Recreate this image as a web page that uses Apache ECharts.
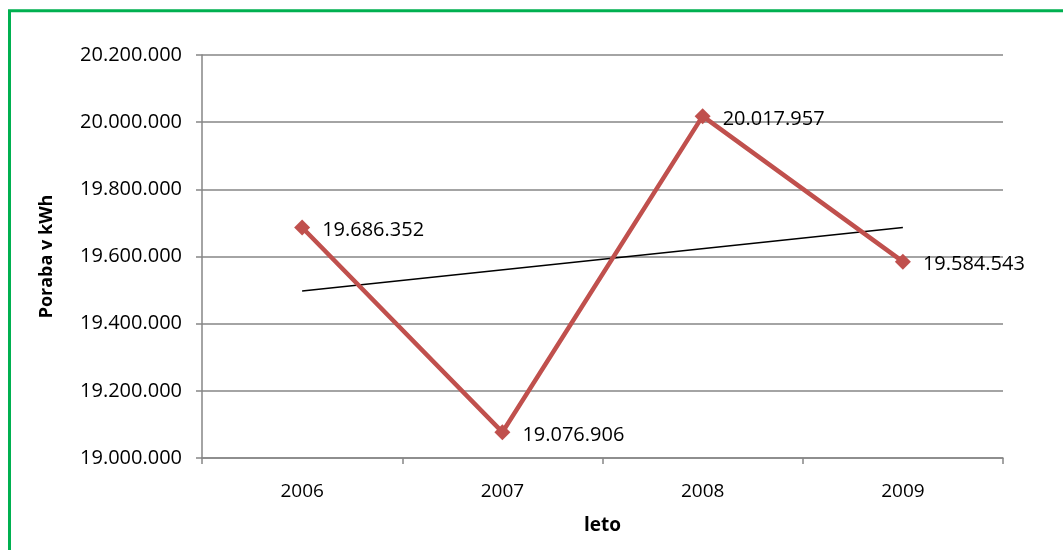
<!DOCTYPE html>
<html>
<head>
<meta charset="utf-8">
<script src="https://cdn.jsdelivr.net/npm/echarts@6/dist/echarts.min.js"></script>
<style>
html,body{margin:0;padding:0;background:#fff;}
#c{width:1063px;height:550px;}
</style>
</head>
<body>
<div id="c"></div>
<script>
const categories = ['2006', '2007', '2008', '2009'];
const poraba = [19686352, 19076906, 20017957, 19584543];
const trend = [19497000, null, null, 19686000];
const yMin = 19000000, yMax = 20200000, yStep = 200000;
const yAxisName = 'Poraba v kWh';
const xAxisName = 'leto';

function fmt(v) {
  return String(Math.round(v)).replace(/\B(?=(\d{3})+(?!\d))/g, '.');
}

const FONT = 'Open Sans';
const chart = echarts.init(document.getElementById('c'));
chart.setOption({
  backgroundColor: '#fff',
  animation: false,
  graphic: [{
    type: 'rect',
    shape: { x: 9.5, y: 10.8, width: 1200, height: 700 },
    style: { fill: 'none', stroke: '#00b050', lineWidth: 3 },
    silent: true
  }],
  grid: { left: 202, right: 60, top: 55, bottom: 92, containLabel: false },
  xAxis: {
    type: 'category',
    data: categories,
    boundaryGap: true,
    name: xAxisName,
    nameLocation: 'middle',
    nameGap: 58,
    nameTextStyle: { fontFamily: FONT, fontSize: 19, fontWeight: 'bold', color: '#000' },
    axisLine: { lineStyle: { color: '#868686', width: 1.5 } },
    axisTick: { show: true, interval: 0, length: 6, alignWithLabel: false, lineStyle: { color: '#868686', width: 1.5 } },
    axisLabel: { fontFamily: FONT, fontSize: 19, color: '#000', margin: 24 }
  },
  yAxis: {
    type: 'value',
    min: yMin, max: yMax, interval: yStep,
    name: yAxisName,
    nameLocation: 'middle',
    nameGap: 146,
    nameRotate: 90,
    nameTextStyle: { fontFamily: FONT, fontSize: 18, fontWeight: 'bold', color: '#000' },
    axisLine: { show: true, lineStyle: { color: '#868686', width: 1.5 } },
    axisTick: { show: true, length: 6, lineStyle: { color: '#868686', width: 1.5 } },
    splitLine: { show: true, lineStyle: { color: '#868686', width: 1.5 } },
    axisLabel: { fontFamily: FONT, fontSize: 20, color: '#000', margin: 20, formatter: fmt }
  },
  series: [
    {
      type: 'line',
      data: trend,
      connectNulls: true,
      showSymbol: false,
      symbol: 'none',
      silent: true,
      lineStyle: { color: '#000', width: 1.5 },
      z: 1
    },
    {
      type: 'line',
      data: poraba,
      symbol: 'diamond',
      symbolSize: 16,
      itemStyle: { color: '#c0504d' },
      lineStyle: { color: '#c0504d', width: 4.5 },
      label: {
        show: true,
        position: 'right',
        distance: 12,
        offset: [0, 3],
        fontFamily: FONT,
        fontSize: 20,
        color: '#000',
        formatter: p => fmt(p.value)
      },
      z: 3
    }
  ]
});
</script>
</body>
</html>
